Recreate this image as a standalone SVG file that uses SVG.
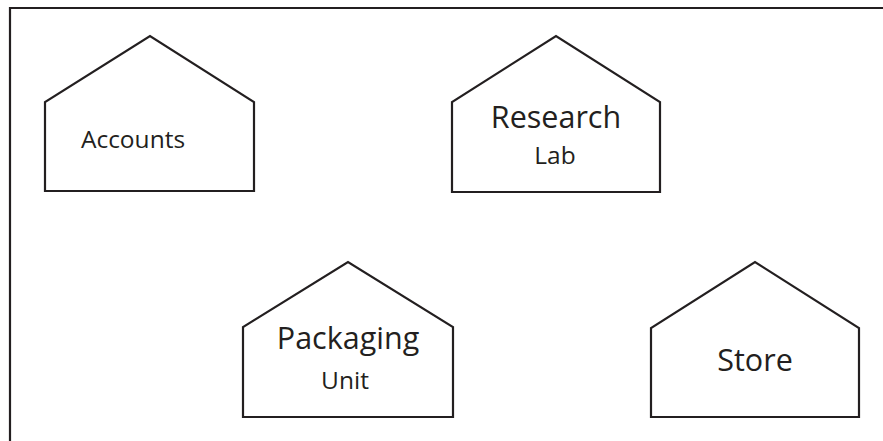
<svg xmlns="http://www.w3.org/2000/svg" width="883" height="441" viewBox="0 0 883 441">
<style>
.house{fill:#fff;stroke:#231f20;stroke-width:2.2;stroke-linejoin:miter}
.frame{fill:none;stroke:#231f20;stroke-width:2.2}
text{font-family:"Open Sans","DejaVu Sans",sans-serif;fill:#231f20;text-anchor:middle}
.big{font-size:30.5px}
.small{font-size:24.5px}
</style>
<rect width="883" height="441" fill="#fff"/>
<path class="frame" d="M10,441 V8 H883"/>
<g id="accounts">
<path class="house" d="M45,191 V102 L150,36 L254,102 V191 Z"/>
<text class="small" x="133" y="148">Accounts</text>
</g>
<g id="research-lab">
<path class="house" d="M452,192 V102 L556,36 L660,102 V192 Z"/>
<text class="big" x="556" y="128">Research</text>
<text class="small" x="555" y="164">Lab</text>
</g>
<g id="packaging-unit">
<path class="house" d="M243,417 V327 L348,262 L453,327 V417 Z"/>
<text class="big" x="348" y="349">Packaging</text>
<text class="small" x="345" y="389">Unit</text>
</g>
<g id="store">
<path class="house" d="M651,417 V328 L755,262 L859,328 V417 Z"/>
<text class="big" x="755" y="371">Store</text>
</g>
<g id="connectors"/>
</svg>
